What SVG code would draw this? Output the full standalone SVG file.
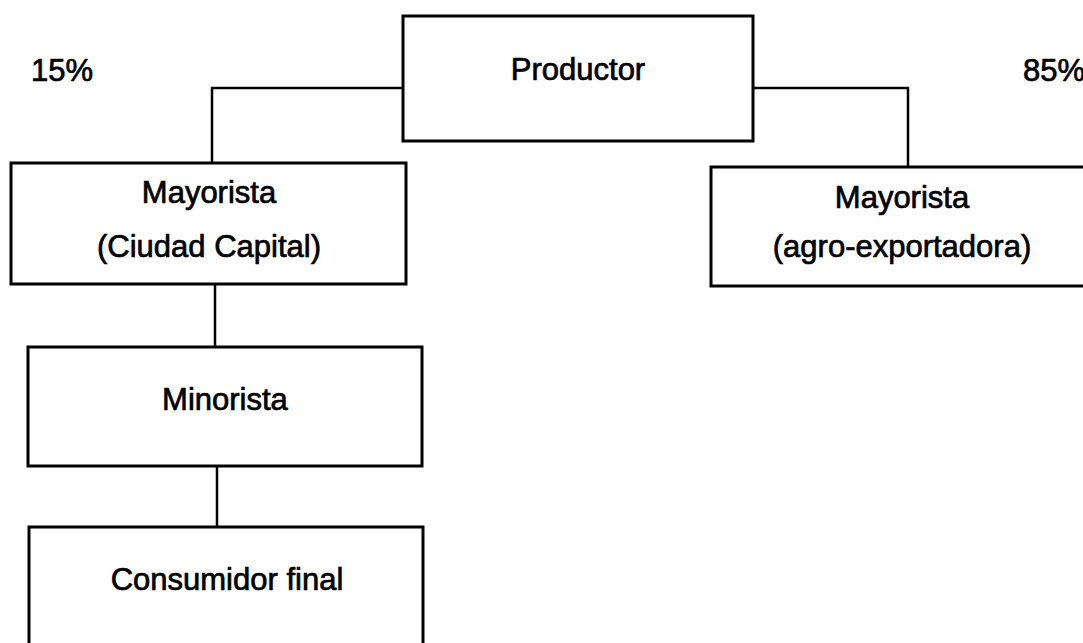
<svg xmlns="http://www.w3.org/2000/svg" width="1083" height="643" viewBox="0 0 1083 643">
<style>
.box{fill:#fff;stroke:#000;stroke-width:3}
.conn{fill:none;stroke:#000;stroke-width:2.5}
text{font-family:"Liberation Sans",Arial,sans-serif;font-size:31px;fill:#000;stroke:#000;stroke-width:0.7}
.c{text-anchor:middle}
</style>
<rect width="1083" height="643" fill="#fff"/>
<g id="connectors">
<polyline class="conn" points="403,88 212,88 212,163"/>
<polyline class="conn" points="753,88 908,88 908,167"/>
<line class="conn" x1="215" y1="284" x2="215" y2="347"/>
<line class="conn" x1="217" y1="466" x2="217" y2="527"/>
</g>
<g id="productor">
<rect class="box" x="403" y="16" width="350" height="125"/>
<text class="c" x="578" y="80">Productor</text>
</g>
<g id="label15">
<text x="31" y="81">15%</text>
</g>
<g id="label85">
<text x="1023" y="81">85%</text>
</g>
<g id="mayorista-capital">
<rect class="box" x="11" y="163" width="395" height="121"/>
<text class="c" x="209" y="203">Mayorista</text>
<text class="c" x="209" y="257">(Ciudad Capital)</text>
</g>
<g id="mayorista-agro">
<rect class="box" x="711" y="167" width="390" height="119"/>
<text class="c" x="902" y="208">Mayorista</text>
<text class="c" x="902" y="257">(agro-exportadora)</text>
</g>
<g id="minorista">
<rect class="box" x="28" y="347" width="394" height="119"/>
<text class="c" x="225" y="410">Minorista</text>
</g>
<g id="consumidor">
<rect class="box" x="29" y="527" width="394" height="130"/>
<text class="c" x="227" y="590">Consumidor final</text>
</g>
</svg>
